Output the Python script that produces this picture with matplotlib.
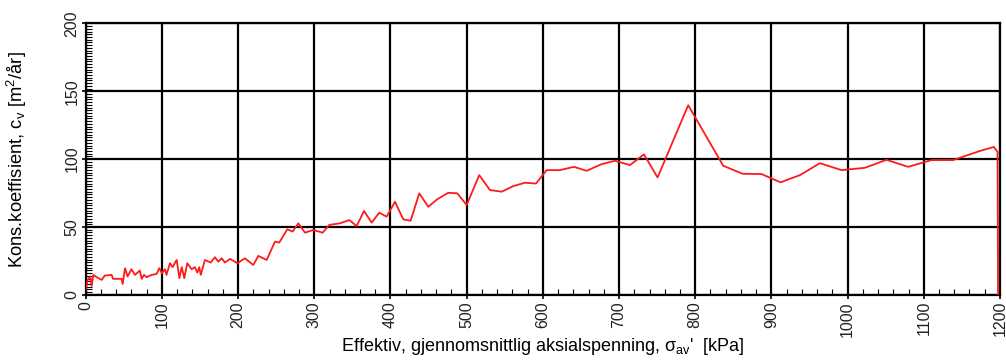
import matplotlib
matplotlib.use('Agg')
import matplotlib.pyplot as plt
from matplotlib.ticker import MultipleLocator

plt.rcParams['font.family'] = ['Liberation Sans', 'DejaVu Sans']
plt.rcParams['mathtext.fontset'] = 'custom'
plt.rcParams['mathtext.rm'] = 'Liberation Sans'

# effektiv spenning [kPa] og cv [m2/aar], lest av figuren
stress = [0, 2.6, 5.7, 7.8, 10, 14.4, 21, 25, 34, 36, 47, 48.5, 51.6, 55, 60, 64.7,
          71, 73.5, 76.5, 80, 86.6, 93, 96.6, 100, 104, 106, 110.6, 114, 119.4, 123,
          126, 129.4, 133.3, 139, 143.4, 146.5, 149, 151, 156.5, 164, 169.6, 174,
          178.5, 182.8, 189.4, 199, 209, 220, 226.5, 237.5, 248.4, 254, 264.6, 271.6,
          279, 287.8, 298.7, 311, 319.7, 333.7, 346, 355.6, 365.3, 375.3, 385.3, 395,
          405.9, 416.8, 426.5, 437.8, 449.6, 461.4, 475.9, 487.7, 500, 516.5, 530.6,
          546, 561.2, 576.5, 591, 605, 622.4, 640.8, 657.5, 677.2, 694.6, 714.3,
          732.7, 750.6, 790.8, 836.8, 862.2, 887, 912, 937.4, 963.6, 992, 1022.7,
          1051, 1079.5, 1110, 1138.6, 1173.6, 1192, 1196.8, 1197.5]
cv = [3.7, 11, 13.5, 6.6, 14.7, 13, 11, 14.2, 14.7, 11.8, 11.8, 8, 19.6, 13.5, 18.9, 14.7,
      17.9, 11.8, 14.7, 13, 14.7, 15.4, 19.6, 15.9, 18.9, 14.7, 23.3, 20.4, 25.7, 12.3,
      20.4, 12.3, 23.3, 18.9, 20.4, 16.4, 20.4, 14.7, 25.7, 23.8, 27.7, 24.5,
      26.9, 23.8, 26.5, 23.3, 26.9, 22, 28.7, 25.7, 39.2, 38.5, 48.3, 46.6,
      52.7, 45.8, 47.8, 45.8, 51.5, 52.7, 55.1, 50.7, 61.8, 53.2, 60.5, 57.6,
      68.6, 55.6, 54.6, 74.8, 64.9, 70.4, 75.2, 74.8, 66.2, 88.2, 77.2,
      76, 80.1, 82.6, 82, 91.9, 91.9, 94.3, 91.4, 96.3, 98.8, 95.6,
      103.5, 86.5, 139.7, 95.1, 89.2, 89, 82.9, 88.2, 97, 91.9, 93.6,
      99.5, 94.3, 99.3, 99.3, 106, 109, 105.4, 0]

xticks = list(range(0, 1201, 100))
yticks = [0, 50, 100, 150, 200]

fig = plt.figure(figsize=(10.06, 3.6), dpi=100)
ax = fig.add_axes([0.0852, 0.181, 0.9088, 0.754])

ax.plot(stress, cv, color='#ff1a1a', lw=1.3, zorder=3)

ax.set_xlim(0, 1200)
ax.set_ylim(0, 200)
ax.set_xticks(xticks)
ax.set_yticks(yticks)
ax.xaxis.set_minor_locator(MultipleLocator(20))
ax.yaxis.set_minor_locator(MultipleLocator(2))
ax.grid(True, which='major', color='black', lw=1.6)
for s in ax.spines.values():
    s.set_linewidth(1.6)
ax.tick_params(which='major', direction='out', length=3, width=1.2, pad=1.5,
               labelsize=11.5, labelcolor='#222222')
ax.tick_params(which='minor', direction='in', length=4, width=0.8)
ax.tick_params(axis='x', labelrotation=90)
ax.tick_params(axis='y', labelrotation=90)
for lbl in ax.get_yticklabels():
    lbl.set_va('center')

ax.set_xlabel("Effektiv, gjennomsnittlig aksialspenning, σ$_{\\mathregular{av}}$'  [kPa]",
              fontsize=13)
ax.xaxis.set_label_coords(0.5, -0.152)
ax.set_ylabel("Kons.koeffisient, c$_{\\mathregular{v}}$ [m$^{\\mathregular{2}}$/år]",
              fontsize=13.2)
ax.yaxis.set_label_coords(-0.062, 0.5)

fig.savefig('out.png', dpi=100)
